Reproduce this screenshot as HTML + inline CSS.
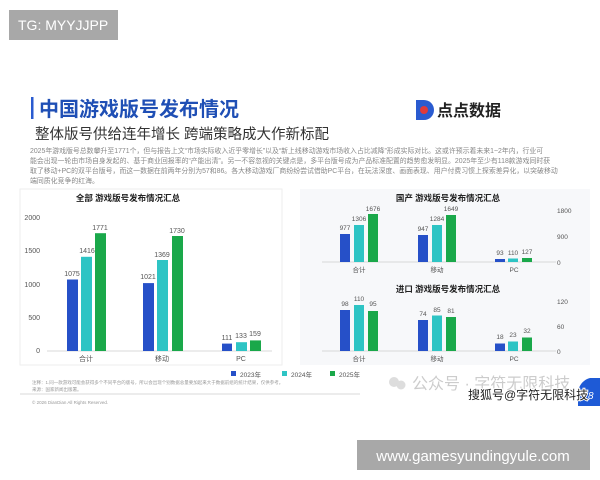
<!DOCTYPE html>
<html><head><meta charset="utf-8"><style>
html,body{margin:0;padding:0;background:#fff;width:600px;height:480px;overflow:hidden}
svg{display:block;font-family:"Liberation Sans","Noto Sans CJK SC",sans-serif}
</style></head><body>
<svg width="600" height="480" viewBox="0 0 600 480">
<rect x="0" y="0" width="600" height="480" fill="#fff"/>
<rect x="9" y="10" width="109" height="30" fill="#a8a8a8"/>
<text x="18" y="30" font-size="14" fill="#fff">TG: MYYJJPP</text>

<!-- title -->
<rect x="31" y="97" width="2.5" height="22" fill="#2a5bd0"/>
<text x="39" y="116" font-size="20" font-weight="bold" fill="#1f4fb5">中国游戏版号发布情况</text>
<text x="35" y="139" font-size="14.5" fill="#333">整体版号供给连年增长 跨端策略成大作新标配</text>
<!-- logo -->
<path d="M416 100 h8 a10 10 0 0 1 0 20 h-8z" fill="#2a5bd0"/>
<circle cx="424" cy="110" r="4" fill="#e03a3a"/>
<text x="437" y="116" font-size="16" font-weight="bold" fill="#222">点点数据</text>

<!-- paragraph -->
<g font-size="6.9" fill="#888">
<text x="30" y="153">2025年游戏版号总数攀升至1771个，但与报告上文“市场实际收入近乎零增长”以及“新上线移动游戏市场收入占比减降”形成实际对比。这或许预示着未来1~2年内，行业可</text>
<text x="30" y="163">能会出现一轮由市场自身发起的、基于商业回报率的“产能出清”。另一不容忽视的关键点是，多平台版号成为产品标准配置的趋势愈发明显。2025年至少有118款游戏同时获</text>
<text x="30" y="173">取了移动+PC的双平台版号，而这一数据在前两年分别为57和86。各大移动游戏厂商纷纷尝试借助PC平台，在玩法深度、画面表现、用户付费习惯上探索差异化，以突破移动</text>
<text x="30" y="183">端同质化竞争的红海。</text>
</g>

<!-- left card -->
<rect x="20" y="189" width="262" height="176" fill="#fff" stroke="#eee"/>
<text x="128" y="201" font-size="8.5" font-weight="bold" fill="#222" text-anchor="middle">全部 游戏版号发布情况汇总</text>
<g font-size="7" fill="#555" text-anchor="end">
<text x="40" y="220">2000</text><text x="40" y="253">1500</text><text x="40" y="287">1000</text><text x="40" y="320">500</text><text x="40" y="353">0</text>
</g>
<line x1="47" y1="351" x2="272" y2="351" stroke="#ccc" stroke-width="0.8"/>
<g>
<rect x="67" y="279.5" width="11" height="71.5" fill="#2650c8"/>
<rect x="81" y="256.8" width="11" height="94.2" fill="#2ec4c4"/>
<rect x="95" y="233.2" width="11" height="117.8" fill="#1aa84a"/>
<rect x="143" y="283.1" width="11" height="67.9" fill="#2650c8"/>
<rect x="157" y="260" width="11" height="91" fill="#2ec4c4"/>
<rect x="172" y="236" width="11" height="115" fill="#1aa84a"/>
<rect x="222" y="343.6" width="10" height="7.4" fill="#2650c8"/>
<rect x="236" y="342.2" width="11" height="8.8" fill="#2ec4c4"/>
<rect x="250" y="340.4" width="11" height="10.6" fill="#1aa84a"/>
</g>
<g font-size="7" fill="#555" text-anchor="middle">
<text x="72" y="276">1075</text><text x="87" y="253">1416</text><text x="100" y="230">1771</text>
<text x="148" y="279">1021</text><text x="162" y="257">1369</text><text x="177" y="233">1730</text>
<text x="227" y="340">111</text><text x="241" y="338">133</text><text x="255" y="336">159</text>
<text x="86" y="361">合计</text><text x="162" y="361">移动</text><text x="241" y="361">PC</text>
</g>

<!-- right panels -->
<rect x="300" y="189" width="290" height="176" fill="#f7f8fa"/>
<text x="448" y="201" font-size="8.5" font-weight="bold" fill="#222" text-anchor="middle">国产 游戏版号发布情况汇总</text>
<line x1="322" y1="262" x2="556" y2="262" stroke="#ccc" stroke-width="0.8"/>
<g font-size="6.5" fill="#555">
<text x="557" y="213">1800</text><text x="557" y="239">900</text><text x="557" y="265">0</text>
</g>
<rect x="340" y="234" width="10" height="28" fill="#2650c8"/>
<rect x="354" y="225" width="10" height="37" fill="#2ec4c4"/>
<rect x="368" y="214" width="10" height="48" fill="#1aa84a"/>
<rect x="418" y="235" width="10" height="27" fill="#2650c8"/>
<rect x="432" y="225" width="10" height="37" fill="#2ec4c4"/>
<rect x="446" y="215" width="10" height="47" fill="#1aa84a"/>
<rect x="495" y="259" width="10" height="3" fill="#2650c8"/>
<rect x="508" y="258.5" width="10" height="3.5" fill="#2ec4c4"/>
<rect x="522" y="258" width="10" height="4" fill="#1aa84a"/>
<g font-size="6.5" fill="#555" text-anchor="middle">
<text x="345" y="230">977</text><text x="359" y="221">1306</text><text x="373" y="211">1676</text>
<text x="423" y="231">947</text><text x="437" y="221">1284</text><text x="451" y="211">1649</text>
<text x="500" y="255">93</text><text x="513" y="255">110</text><text x="527" y="254">127</text>
<text x="359" y="272">合计</text><text x="437" y="272">移动</text><text x="514" y="272">PC</text>
</g>

<text x="448" y="292" font-size="8.5" font-weight="bold" fill="#222" text-anchor="middle">进口 游戏版号发布情况汇总</text>
<line x1="322" y1="351" x2="556" y2="351" stroke="#ccc" stroke-width="0.8"/>
<g font-size="6.5" fill="#555">
<text x="557" y="304">120</text><text x="557" y="329">60</text><text x="557" y="354">0</text>
</g>
<rect x="340" y="310" width="10" height="41" fill="#2650c8"/>
<rect x="354" y="305" width="10" height="46" fill="#2ec4c4"/>
<rect x="368" y="311" width="10" height="40" fill="#1aa84a"/>
<rect x="418" y="320" width="10" height="31" fill="#2650c8"/>
<rect x="432" y="315.5" width="10" height="35.5" fill="#2ec4c4"/>
<rect x="446" y="317" width="10" height="34" fill="#1aa84a"/>
<rect x="495" y="343.5" width="10" height="7.5" fill="#2650c8"/>
<rect x="508" y="341.5" width="10" height="9.5" fill="#2ec4c4"/>
<rect x="522" y="337.5" width="10" height="13.5" fill="#1aa84a"/>
<g font-size="6.5" fill="#555" text-anchor="middle">
<text x="345" y="306">98</text><text x="359" y="301">110</text><text x="373" y="306">95</text>
<text x="423" y="316">74</text><text x="437" y="312">85</text><text x="451" y="313">81</text>
<text x="500" y="339">18</text><text x="513" y="337">23</text><text x="527" y="333">32</text>
<text x="359" y="361">合计</text><text x="437" y="361">移动</text><text x="514" y="361">PC</text>
</g>

<!-- legend -->
<g font-size="6.5" fill="#555">
<rect x="231" y="371" width="5" height="5" fill="#2650c8"/><text x="240" y="377">2023年</text>
<rect x="282" y="371" width="5" height="5" fill="#2ec4c4"/><text x="291" y="377">2024年</text>
<rect x="330" y="371" width="5" height="5" fill="#1aa84a"/><text x="339" y="377">2025年</text>
</g>
<g font-size="4.5" fill="#999">
<text x="32" y="384">注释：1.同一款游戏可能会获得多个不同平台的版号，所以会出现个别数据总量要加起来大于数据前组的统计结果，仅供参考。</text>
<text x="32" y="391">来源：国家新闻出版署。</text>
<text x="32" y="404">© 2026 DianDian All Rights Reserved.</text>
</g>
<line x1="20" y1="394" x2="360" y2="394" stroke="#ccc" stroke-width="0.8"/>

<!-- watermarks -->
<circle cx="394" cy="382" r="5" fill="#ddd"/><circle cx="401" cy="385" r="4.5" fill="#ddd"/>
<text x="412" y="389" font-size="16" fill="#ccc">公众号 · 字符无限科技</text>
<path d="M590 378 h10 v28 h-22 v-12 a16 16 0 0 1 12 -16z" fill="#1e5ad6"/>
<text x="468" y="399" font-size="12" fill="#222" stroke="#fff" stroke-width="2" paint-order="stroke">搜狐号@字符无限科技</text>
<text x="588" y="399" font-size="10" fill="#fff" font-style="italic">8</text>

<rect x="357" y="440" width="233" height="30" fill="#a8a8a8"/>
<text x="473" y="461" font-size="15" fill="#fff" text-anchor="middle">www.gamesyundingyule.com</text>
</svg>
</body></html>
